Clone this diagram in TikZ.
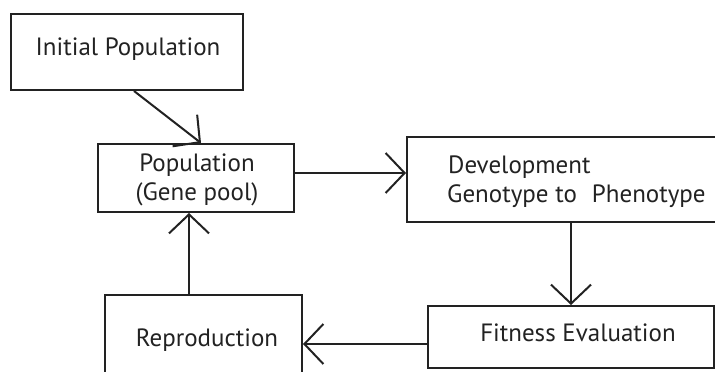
\documentclass[tikz,border=0pt]{standalone}
\usepackage{fontspec}
\setmainfont{PT Sans}
\usetikzlibrary{arrows.meta}
\definecolor{ink}{HTML}{222222}
\begin{document}
\begin{tikzpicture}[x=1pt,y=-1pt,
  box/.style={draw=ink, line width=2pt, rectangle, inner sep=0pt, anchor=north west},
  lbl/.style={font=\fontsize{25}{29}\selectfont, text=ink, inner sep=0pt},
  link/.style={draw=ink, line width=2pt,
    -{Straight Barb[length=19pt,width=40pt,line width=2pt]}}]
\useasboundingbox (0,0) rectangle (715,372);
\clip (0,0) rectangle (715,372);

% boxes
\node[box, minimum width=232pt, minimum height=76pt] (init) at (10,13) {};
\node[box, minimum width=196pt, minimum height=68pt] (pop) at (97,143) {};
\node[box, minimum width=330pt, minimum height=85pt] (dev) at (406,136) {};
\node[box, minimum width=286pt, minimum height=62pt] (fit) at (427,305) {};
\node[box, minimum width=197pt, minimum height=90pt] (rep) at (104,294) {};

% labels
\node[lbl, anchor=base] (inittxt) at (128,55) {Initial Population};
\node[lbl, anchor=base] (poptxt1) at (197,171) {Population};
\node[lbl, anchor=base] (poptxt2) at (197,200) {(Gene pool)};
\node[lbl, anchor=base west] (devtxt1) at (448,173) {Development};
\node[lbl, anchor=base west] (devtxt2) at (447,202) {Genotype to\hspace{0.6em}Phenotype};
\node[lbl, anchor=base] (fittxt) at (578,341) {Fitness Evaluation};
\node[lbl, anchor=base] (reptxt) at (207,346) {Reproduction};

% connectors
\draw[link] ([xshift=7pt]init.south) -- ([xshift=5pt]pop.north);
\draw[link] ([yshift=5pt]pop.east) -- ([yshift=5pt]pop.east -| dev.west);
\draw[link] (dev.south -| fit.north) -- (fit.north);
\draw[link] ([yshift=-7pt]fit.west) -- ([yshift=-7pt]fit.west -| rep.east);
\draw[link] ([xshift=-14.5pt]rep.north) -- ([xshift=-14.5pt]rep.north |- pop.south);
\end{tikzpicture}
\end{document}
